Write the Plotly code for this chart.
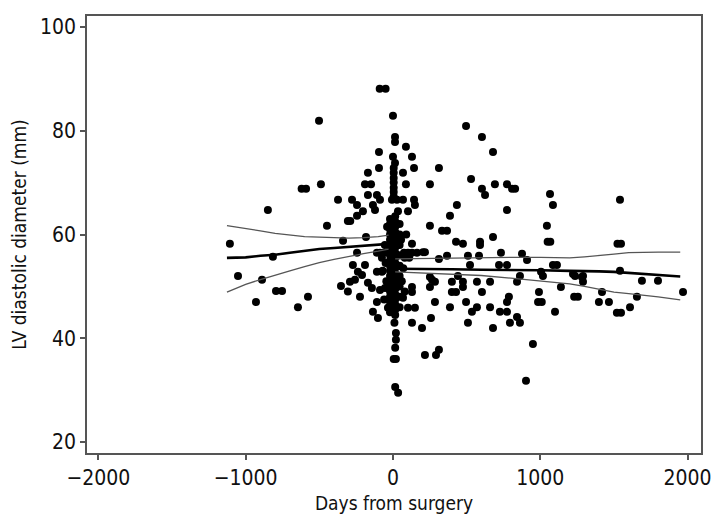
import plotly.graph_objects as go

# Measurements: days relative to surgery and LV diastolic diameter (mm)
days = [
    -1107, -1052, -849, -930, -889, -794, -753, -815, -645, -577, -502, -489,
    -620, -590, -373, -278, -244, -306, -290, -244, -448, -339, -244, -353, -306,
    -90, -50, 0, 14, 14, 88, -95, 0, 129, 14, 143, -95, 5, 5, 5, 5, 5, 5, 5,
    -170, 68, -190, -149, 88, 251, 312, 496, 604, 679, 530, 604, 625, 692,
    -170, -109, -204, -136, -122, -88, -7, 27, 68, 143, 149, 34, 102, 434, 387,
    251, 333, 367, 428, 475, 591, 591, 679, -183,
    774, 808, 829, 1066, 1086, 774, 1045, 1050, 1068, 733, 367, 509, 584, 876,
    910, 523, 720, 774, 1086, 1113, 1005, 1018, 862, 842, 441, 1236, 1290, 1290,
    400, 475, 570, 659, 475, 1140, 400, 428, 604, 991, 1230, 1255, 787, 774,
    496, 985, 1010, 387, 536, 570, 659, 726, 774, 1100, 509, 794, 842, 862, 679,
    950, 903, 217, 292, 312, 197, 129, 258, 1398, 1466, 1419, 1520, 1548, 1609,
    1656, 1690, 1799, 1969, 1541, 1222, 1283, 1541, 1524, 1548, 129, 217, 312,
    -272, -190, -109, -75, -238, -210, -292, -258, -170, -143, -88, -54, -224,
    -109, -136, -102, -34, 102, 149, 68, 129, 129, 251, 285, 251, 285, 265,
    10, 20, 20, 15, 5, 20, 15, 35,
    -20, -20, -20, -20, -20, -20, -20, -20, -20, -20, -20, -20, -20, -20, -20,
    -20, -20, -20, -20,
    15, 15, 15, 15, 15, 15, 15, 15, 15, 15, 15, 15, 15, 15, 15, 15, 15, 15, 15,
    15,
    45, 45, 45, 45, 45, 45, 45, 45, 45,
    -109, -88, -61, 75, 102, 129, 163, -75, 80, 110,
    -55, -50, 70, 60, -45, 80, -60, 204, -40, 55, 90, -70,
]
lvdd = [
    58.2, 52.0, 64.7, 47.0, 51.3, 49.1, 49.1, 55.7, 46.0, 48.0, 81.9, 69.7,
    68.8, 68.8, 66.7, 66.7, 65.7, 62.6, 62.6, 63.6, 61.7, 58.8, 56.5, 50.1, 49.0,
    88.1, 88.1, 82.9, 78.8, 77.8, 76.9, 75.9, 75.0, 75.0, 73.8, 72.8, 72.8, 72.8,
    71.9, 70.9, 70.0, 69.0, 68.2, 67.3,
    71.9, 71.9, 69.7, 69.7, 69.7, 69.7, 72.8, 80.9, 78.8, 75.9, 70.7, 68.8, 67.6,
    69.7,
    67.6, 67.6, 64.5, 65.7, 64.7, 66.7, 66.7, 66.7, 66.7, 66.7, 65.7, 64.5, 64.5,
    65.7, 63.6,
    61.7, 60.7, 60.7, 58.6, 58.2, 58.6, 58.0, 59.5, 59.5,
    69.7, 68.8, 68.8, 67.8, 65.7, 64.7, 61.7, 58.6, 58.6, 56.5, 55.9, 55.9, 55.9,
    56.3, 55.1, 54.1, 54.1, 54.1, 54.1, 54.1, 52.8, 52.0, 52.0, 50.9, 52.0, 52.0,
    52.0, 50.9, 50.9, 50.9, 50.9, 50.9, 49.9, 49.9, 48.9, 48.9, 48.9, 48.9, 48.0,
    48.0, 48.0, 47.0, 47.0, 47.0, 47.0, 46.0, 45.1, 46.0, 46.0, 45.1, 45.1, 45.1,
    43.0, 43.0, 44.1, 43.0, 42.0,
    38.9, 31.8, 36.8, 36.8, 37.8, 42.0, 43.0, 43.9, 47.0, 47.0, 48.9, 44.9, 44.9,
    46.0, 48.0, 51.1, 51.1, 48.9, 53.0, 52.4, 51.8, 66.7, 58.2, 58.2, 58.2, 56.6,
    55.3,
    54.1, 54.1, 52.8, 52.8, 52.8, 52.2, 50.9, 51.3, 50.7, 49.7, 49.3, 49.7, 48.0,
    47.0, 45.1, 43.9, 45.9, 45.9, 45.9, 47.8, 49.9, 48.9, 51.8, 50.9, 49.9, 47.0,
    51.3,
    43.0, 41.0, 39.7, 38.2, 36.0, 36.0, 30.6, 29.5,
    63.0, 62.0, 61.0, 60.0, 59.0, 58.0, 57.0, 56.0, 55.0, 54.0, 53.0, 52.0, 51.0,
    50.0, 49.0, 48.0, 47.0, 46.0, 45.0,
    63.5, 62.5, 61.5, 60.5, 59.5, 58.5, 57.5, 56.5, 55.5, 54.5, 53.5, 52.5, 51.5,
    50.5, 49.5, 48.5, 47.5, 46.5, 45.5, 44.5,
    62.0, 60.0, 58.0, 56.0, 54.0, 52.0, 50.0, 48.0, 46.0,
    56.5, 56.5, 56.5, 56.5, 56.5, 56.5, 56.5, 55.5, 55.5, 55.5,
    58.0, 54.5, 53.5, 51.0, 51.0, 49.0, 47.5, 56.6, 61.5, 59.0, 60.0, 53.0,
]

# Fitted trend with confidence band, before and after surgery
days_pre = [-1127, -1000, -900, -800, -700, -600, -500, -400, -300, -200, -100, -30]
fit_pre = [55.5, 55.6, 55.9, 56.1, 56.5, 56.9, 57.2, 57.4, 57.6, 57.8, 58.0, 58.2]
upper_pre = [61.7, 61.2, 60.7, 60.2, 59.9, 59.6, 59.5, 59.4, 59.3, 59.4, 59.6, 59.9]
lower_pre = [48.9, 50.4, 51.3, 52.2, 53.0, 53.8, 54.6, 55.2, 55.8, 56.3, 56.8, 57.2]

days_post = [15, 200, 400, 600, 800, 1000, 1200, 1300, 1400, 1500, 1600, 1700, 1800, 1950]
fit_post = [53.4, 53.4, 53.3, 53.2, 53.2, 53.1, 53.0, 53.0, 52.9, 52.8, 52.6, 52.3, 52.1, 51.9]
upper_post = [55.3, 55.4, 55.5, 55.5, 55.6, 55.6, 55.5, 55.7, 55.9, 56.2, 56.5, 56.6, 56.6, 56.6]
lower_post = [52.8, 52.6, 52.4, 52.1, 51.6, 51.0, 50.5, 50.0, 49.5, 48.9, 48.6, 48.3, 48.0, 47.4]

FONT = "DejaVu Sans Condensed, Liberation Sans Narrow, sans-serif"

fig = go.Figure()
fig.add_trace(go.Scatter(
    x=days, y=lvdd, mode="markers",
    marker=dict(color="black", size=8, line=dict(width=0)),
    showlegend=False,
))

for xs, ys, w, c in [
    (days_pre, upper_pre, 1.3, "#555"),
    (days_pre, lower_pre, 1.3, "#555"),
    (days_pre, fit_pre, 2.6, "black"),
    (days_post, upper_post, 1.3, "#555"),
    (days_post, lower_post, 1.3, "#555"),
    (days_post, fit_post, 2.6, "black"),
]:
    fig.add_trace(go.Scatter(x=xs, y=ys, mode="lines",
                             line=dict(color=c, width=w), showlegend=False))

axis_common = dict(
    showgrid=False, zeroline=False, showline=True, mirror=True,
    linecolor="#555", linewidth=1.6, ticks="outside", ticklen=5,
    tickcolor="#555", tickwidth=1.5, automargin=False,
    tickfont=dict(family=FONT, size=21, color="#111"),
)

# page body adds an 8px offset, margins compensate for it
fig.update_layout(
    width=720, height=528,
    margin=dict(l=79, r=27, t=8, b=83),
    plot_bgcolor="white", paper_bgcolor="white",
    xaxis=dict(
        range=[-2077, 2091], tickvals=[-2000, -1000, 0, 1000, 2000],
        title=dict(text="Days from surgery", standoff=8,
                   font=dict(family=FONT, size=19, color="#111")),
        **axis_common,
    ),
    yaxis=dict(
        range=[17.9, 102.1], tickvals=[20, 40, 60, 80, 100],
        title=dict(text="LV diastolic diameter (mm)", standoff=9,
                   font=dict(family=FONT, size=19, color="#111")),
        **axis_common,
    ),
)

fig.write_html("out.html")
